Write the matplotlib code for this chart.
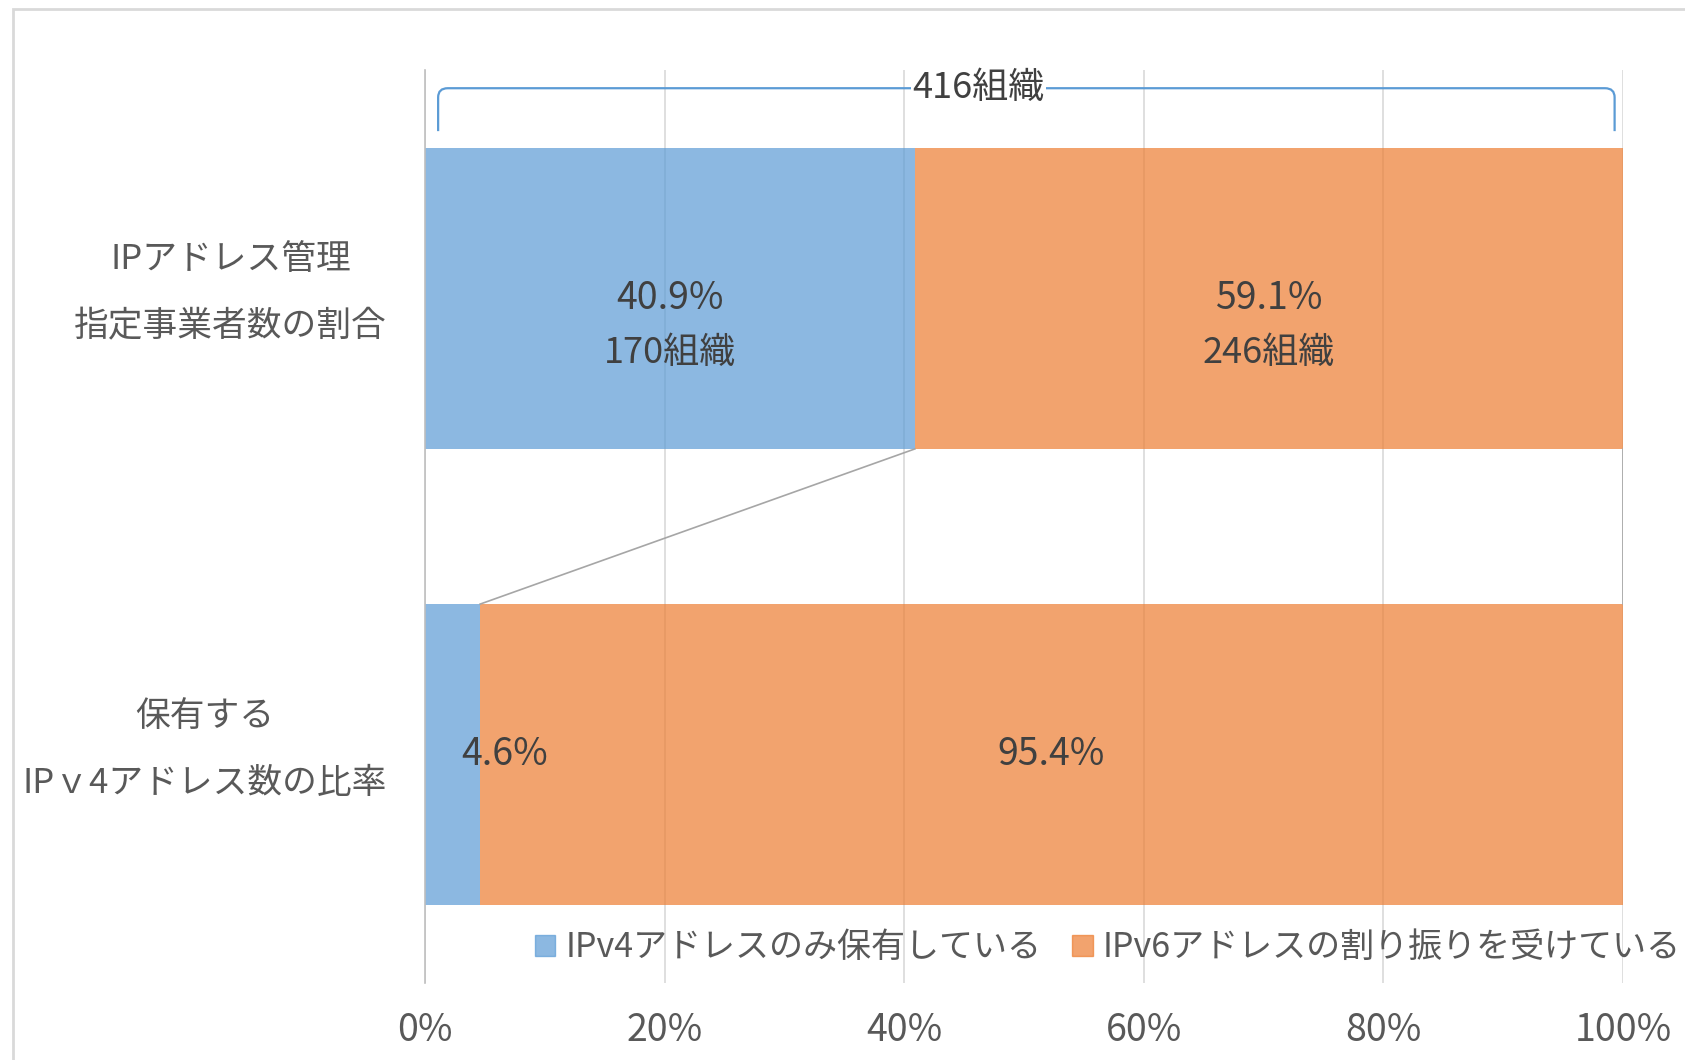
"""IPv4 / IPv6 address holding ratio - 100% stacked horizontal bars."""

import matplotlib
matplotlib.use("Agg")
import matplotlib.pyplot as plt
from matplotlib.patches import Rectangle, PathPatch
from matplotlib.path import Path

plt.rcParams["font.family"] = ["Noto Sans CJK JP", "DejaVu Sans"]

# data (top row first)
categories = ["IPアドレス管理\n指定事業者数の割合", "保有する\nIPｖ4アドレス数の比率"]
series_names = ["IPv4アドレスのみ保有している", "IPv6アドレスの割り振りを受けている"]
ipv4_share = [0.409, 0.046]
ipv6_share = [0.591, 0.954]
ipv4_orgs = [170, None]
ipv6_orgs = [246, None]
total_orgs = 416
xticks = [0, 0.2, 0.4, 0.6, 0.8, 1.0]
xtick_labels = ["0%", "20%", "40%", "60%", "80%", "100%"]

BLUE = "#5B9BD5"
ORANGE = "#ED7D31"
TXT = "#595959"
DARK = "#404040"
BAR_H = 0.66


def main() -> None:
    fig = plt.figure(figsize=(16.85, 10.6), dpi=100)
    ax = fig.add_axes([0.2522, 0.0726, 0.7110, 0.8614])

    ypos = [1, 0]
    ax.barh(ypos, ipv4_share, height=BAR_H, color=BLUE, alpha=0.7, zorder=2)
    ax.barh(ypos, ipv6_share, left=ipv4_share, height=BAR_H, color=ORANGE,
            alpha=0.7, zorder=2)

    # series lines between the two bars
    top_lo, bot_hi = ypos[0] - BAR_H / 2, ypos[1] + BAR_H / 2
    ax.plot([ipv4_share[0], ipv4_share[1]], [top_lo, bot_hi], color="#A6A6A6", lw=1.2, zorder=3)
    ax.plot([1.0, 1.0], [top_lo, bot_hi], color="#A6A6A6", lw=1.2, zorder=3)

    # data labels
    for i, y in enumerate(ypos):
        c4 = ipv4_share[i] / 2
        c6 = ipv4_share[i] + ipv6_share[i] / 2
        dx = 52 if ipv4_share[i] < 0.1 else 0
        ax.annotate(f"{ipv4_share[i]*100:.1f}%", (c4, y), xytext=(dx, 0),
                    textcoords="offset pixels", ha="center", va="center",
                    fontsize=27, color=DARK, zorder=4)
        ax.annotate(f"{ipv6_share[i]*100:.1f}%", (c6, y), ha="center", va="center",
                    fontsize=27, color=DARK, zorder=4)
        if ipv4_orgs[i] is not None:
            ax.annotate(f"{ipv4_orgs[i]}組織", (c4, y), xytext=(0, -55),
                        textcoords="offset pixels", ha="center", va="center",
                        fontsize=26, color=DARK, zorder=4)
            ax.annotate(f"{ipv6_orgs[i]}組織", (c6, y), xytext=(0, -55),
                        textcoords="offset pixels", ha="center", va="center",
                        fontsize=26, color=DARK, zorder=4)

    # category labels, right-aligned block, centred lines
    for cat, y in zip(categories, ypos):
        ax.annotate(cat, (0, y), xycoords=("axes fraction", "data"),
                    xytext=(-38, 5), textcoords="offset pixels",
                    ha="right", va="center", multialignment="center",
                    linespacing=2.2, fontsize=25, color=TXT)

    # bracket over the top bar
    x0, x1, yb, yt, r = 0.011, 0.993, 1.366, 1.46, 0.008
    verts = [(x0, yb), (x0, yt - 0.02), (x0, yt), (x0 + r, yt), (x1 - r, yt),
             (x1, yt), (x1, yt - 0.02), (x1, yb)]
    codes = [Path.MOVETO, Path.LINETO, Path.CURVE3, Path.CURVE3, Path.LINETO,
             Path.CURVE3, Path.CURVE3, Path.LINETO]
    ax.add_patch(PathPatch(Path(verts, codes), fill=False, ec=BLUE, lw=1.6, zorder=3))
    ax.text(0.462, yt, f"{total_orgs}組織", ha="center", va="center", fontsize=26,
            color=DARK, zorder=4,
            bbox=dict(facecolor="white", edgecolor="none", pad=1))

    ax.set_xlim(0, 1)
    ax.set_ylim(-0.5, 1.5)
    ax.set_xticks(xticks)
    ax.set_xticklabels(xtick_labels, fontsize=27, color=TXT)
    ax.set_yticks([])
    ax.tick_params(axis="both", length=0)
    ax.tick_params(axis="x", pad=20)
    ax.grid(axis="x", color="#D9D9D9", lw=1.2, zorder=0)
    ax.set_axisbelow(True)
    for s in ["top", "right", "bottom"]:
        ax.spines[s].set_visible(False)
    ax.spines["left"].set_color("#BFBFBF")
    ax.spines["left"].set_linewidth(1.2)

    handles = [Rectangle((0, 0), 1, 1, color=BLUE, alpha=0.7),
               Rectangle((0, 0), 1, 1, color=ORANGE, alpha=0.7)]
    fig.legend(handles, series_names, loc="center", bbox_to_anchor=(0.6575, 0.1057),
               ncol=2, frameon=False, fontsize=24.5, labelcolor=TXT,
               handlelength=0.6, handleheight=0.6, handletextpad=0.3,
               columnspacing=0.9)

    # outer chart frame (cropped on right and bottom)
    fig.patches.append(Rectangle((13 / 1685, -0.1), 1.2, 1.1 - 9 / 1060,
                                 transform=fig.transFigure, fill=False,
                                 ec="#D9D9D9", lw=2))

    fig.savefig("out.png", dpi=100, facecolor="white")
    plt.close(fig)


if __name__ == "__main__":
    main()
